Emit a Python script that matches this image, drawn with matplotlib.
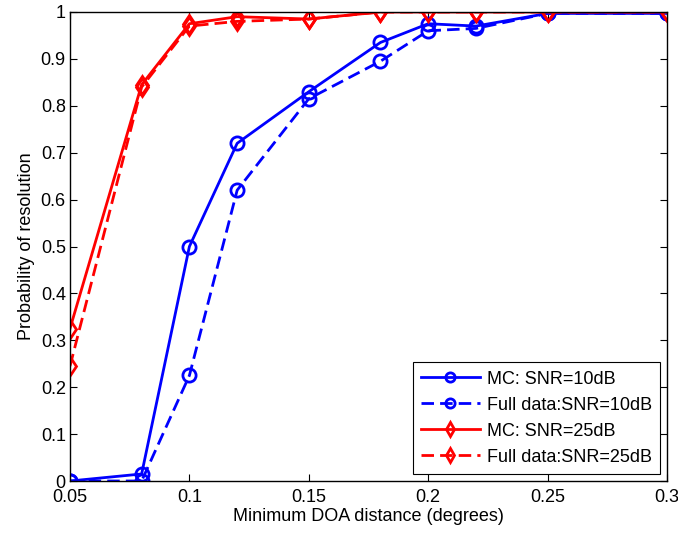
import matplotlib
matplotlib.use("Agg")
import matplotlib.pyplot as plt

x = [0.05, 0.08, 0.1, 0.12, 0.15, 0.18, 0.2, 0.22, 0.25, 0.3]
mc10 = [0.0, 0.015, 0.5, 0.72, 0.83, 0.935, 0.975, 0.97, 0.997, 0.997]
full10 = [0.0, 0.0, 0.225, 0.62, 0.815, 0.895, 0.96, 0.965, 0.997, 0.997]
mc25 = [0.325, 0.845, 0.975, 0.99, 0.985, 1.0, 1.0, 1.0, 1.0, 1.0]
full25 = [0.245, 0.84, 0.97, 0.98, 0.985, 1.0, 1.0, 1.0, 1.0, 1.0]
labels = ["MC: SNR=10dB", "Full data:SNR=10dB", "MC: SNR=25dB", "Full data:SNR=25dB"]

plt.rcParams['font.family'] = ['Liberation Sans', 'DejaVu Sans']
fig = plt.figure(figsize=(6.78, 5.35), dpi=100)
ax = fig.add_axes([70/678, 1-481/535, (667-70)/678, (481-12)/535])

kw = dict(linewidth=2, markersize=9.5, markerfacecolor='none', markeredgewidth=2)
ax.plot(x, mc10, '-', color='#0000ff', marker='o', label=labels[0], **kw)
ax.plot(x, full10, '--', color='#0000ff', marker='o', label=labels[1], dashes=(4.5, 2.2), **kw)
ax.plot(x, mc25, '-', color='#ff0000', marker='d', label=labels[2], **kw)
ax.plot(x, full25, '--', color='#ff0000', marker='d', label=labels[3], dashes=(4.5, 2.2), **kw)

ax.set_xlim(0.05, 0.3)
ax.set_ylim(0, 1)
ax.set_xticks([0.05, 0.1, 0.15, 0.2, 0.25, 0.3])
ax.set_xticklabels(["0.05", "0.1", "0.15", "0.2", "0.25", "0.3"])
ax.set_yticks([i/10 for i in range(11)])
ax.set_yticklabels(["0", "0.1", "0.2", "0.3", "0.4", "0.5", "0.6", "0.7", "0.8", "0.9", "1"])
ax.tick_params(direction='in', top=True, right=True, labelsize=13, length=5, width=0.8)
ax.tick_params(axis='x', pad=6)
ax.tick_params(axis='y', pad=3)
for s in ax.spines.values():
    s.set_linewidth(1.0)
ax.set_xlabel("Minimum DOA distance (degrees)", fontsize=13, labelpad=1)
ax.set_ylabel("Probability of resolution", fontsize=13, labelpad=4)

leg = ax.legend(loc='lower right', fontsize=13, fancybox=False, framealpha=1,
                edgecolor='black', markerscale=0.7, handlelength=3.3, borderaxespad=0.4,
                labelspacing=0.5, handletextpad=0.35, borderpad=0.45)
leg.get_frame().set_linewidth(0.8)

fig.savefig("out.png", dpi=100)
